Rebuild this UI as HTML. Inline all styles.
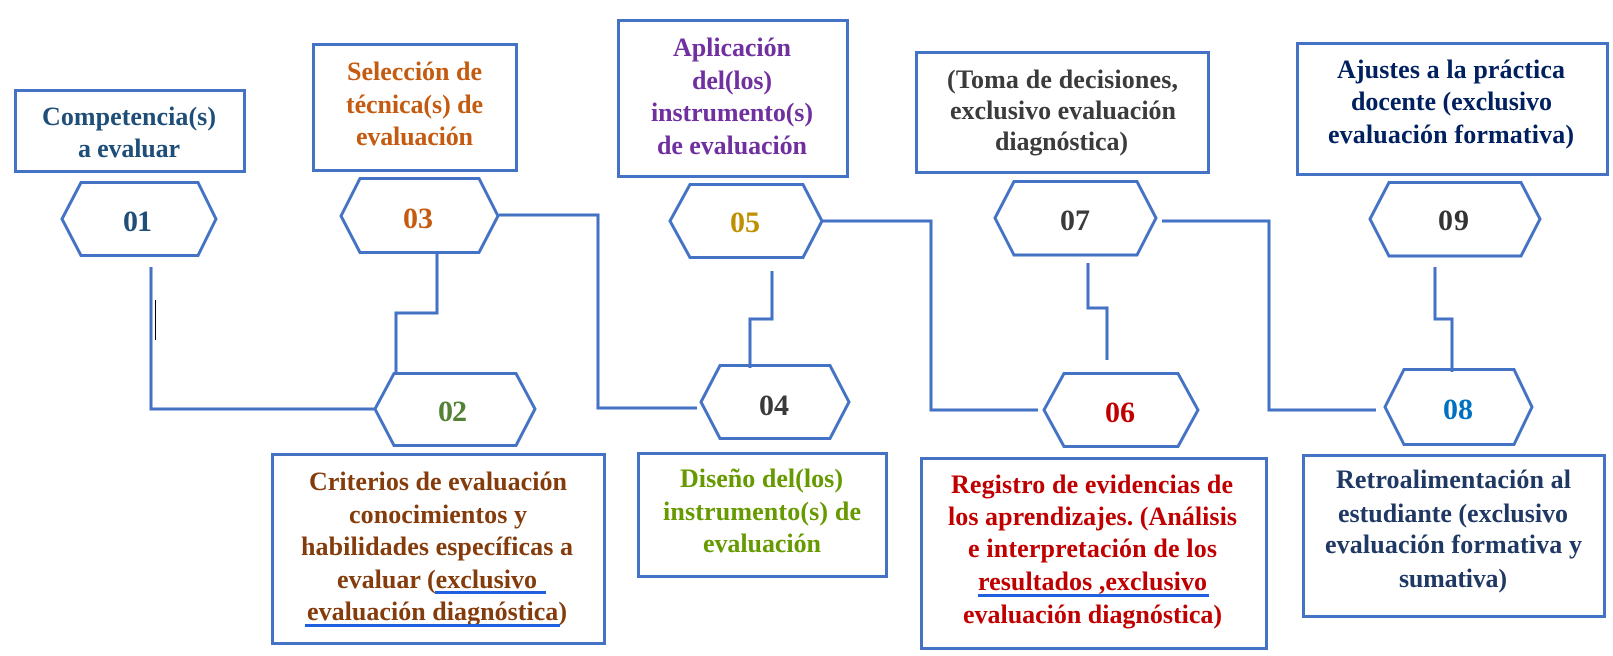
<!DOCTYPE html>
<html>
<head>
<meta charset="utf-8">
<style>
  html,body{margin:0;padding:0;background:#ffffff;}
  body{width:1613px;height:656px;overflow:hidden;}
  svg{display:block;}
  text{font-family:"Liberation Serif","Times New Roman",serif;font-weight:bold;}
  .t{font-size:26px;}
  .n{font-size:30px;}
</style>
</head>
<body>
<svg width="1613" height="656" viewBox="0 0 1613 656" xmlns="http://www.w3.org/2000/svg">
  <rect x="0" y="0" width="1613" height="656" fill="#ffffff"/>
  <g fill="none" stroke="#4472C4" stroke-width="3">
    <!-- boxes -->
    <rect x="15.5" y="90.5" width="229" height="81"/>
    <rect x="313.5" y="44.5" width="203" height="126"/>
    <rect x="618.5" y="20.5" width="229" height="156"/>
    <rect x="916.5" y="52.5" width="292" height="120"/>
    <rect x="1297.5" y="43.5" width="310" height="131"/>
    <rect x="272.5" y="454.5" width="332" height="189"/>
    <rect x="638.5" y="453.5" width="248" height="123"/>
    <rect x="921.5" y="458.5" width="345" height="190"/>
    <rect x="1303.5" y="455.5" width="301" height="161"/>

    <!-- hexagons top -->
    <polygon points="62,219 81,182.5 198,182.5 216,219 198,255.5 81,255.5"/>
    <polygon points="341,216 360,178.5 479,178.5 498,216 479,252.5 360,252.5"/>
    <polygon points="670,221 690,184.5 803,184.5 822,221 803,257.5 690,257.5"/>
    <polygon points="995,218 1014,181.5 1137,181.5 1156,218 1137,255 1014,255"/>
    <polygon points="1370,219 1389,182.5 1521,182.5 1540,219 1521,256 1389,256"/>
    <!-- hexagons bottom -->
    <polygon points="375,409 394,373.5 516,373.5 535,409 516,445.5 394,445.5"/>
    <polygon points="701,402 720,365.5 830,365.5 849,402 830,438.5 720,438.5"/>
    <polygon points="1044,410 1064,373.5 1178,373.5 1198,410 1178,446.5 1064,446.5"/>
    <polygon points="1385,407 1404,369.5 1514,369.5 1532,407 1514,444.5 1404,444.5"/>

    <!-- connectors -->
    <polyline points="151,267 151,409 374,409"/>
    <polyline points="437,254 437,313 396,313 396,372"/>
    <polyline points="499,215 598,215 598,408 697,408"/>
    <polyline points="772,271 772,319 750,319 750,368"/>
    <polyline points="823,221 931,221 931,410 1038,410"/>
    <polyline points="1088,263 1088,308 1107,308 1107,360"/>
    <polyline points="1162,221 1269,221 1269,410 1376,410"/>
    <polyline points="1435,267 1435,319 1452,319 1452,372"/>
  </g>

  <!-- cursor mark -->
  <line x1="155.5" y1="300" x2="155.5" y2="340" stroke="#000" stroke-width="1"/>

  <!-- numbers -->
  <g class="n">
    <text x="123" y="231" textLength="29" fill="#1F4E79">01</text>
    <text x="403" y="228" textLength="30" fill="#C55A11">03</text>
    <text x="730" y="232" textLength="30" fill="#BF9000">05</text>
    <text x="1060" y="230" textLength="30" fill="#3A3A3A">07</text>
    <text x="1438" y="230" textLength="31" fill="#333333">09</text>
    <text x="438" y="421" textLength="29" fill="#538135">02</text>
    <text x="759" y="415" textLength="30" fill="#3A3A3A">04</text>
    <text x="1105" y="422" textLength="30" fill="#C00000">06</text>
    <text x="1443" y="419" textLength="30" fill="#0070C0">08</text>
  </g>

  <!-- Box 01 -->
  <g class="t" fill="#1F4E79">
    <text x="42" y="125" textLength="174">Competencia(s)</text>
    <text x="78" y="157" textLength="102">a evaluar</text>
  </g>
  <!-- Box 03 -->
  <g class="t" fill="#C55A11">
    <text x="347" y="80" textLength="135">Selección de</text>
    <text x="346" y="113" textLength="137">técnica(s) de</text>
    <text x="356" y="145" textLength="117">evaluación</text>
  </g>
  <!-- Box 05 -->
  <g class="t" fill="#7030A0">
    <text x="673" y="56" textLength="118">Aplicación</text>
    <text x="692" y="89" textLength="80">del(los)</text>
    <text x="651" y="121" textLength="162">instrumento(s)</text>
    <text x="657" y="154" textLength="150">de evaluación</text>
  </g>
  <!-- Box 07 -->
  <g class="t" fill="#3B3B3B">
    <text x="947" y="88" textLength="231">(Toma de decisiones,</text>
    <text x="950" y="119" textLength="226">exclusivo evaluación</text>
    <text x="995" y="150" textLength="133">diagnóstica)</text>
  </g>
  <!-- Box 09 -->
  <g class="t" fill="#002060">
    <text x="1337" y="78" textLength="228">Ajustes a la práctica</text>
    <text x="1351" y="110" textLength="201">docente (exclusivo</text>
    <text x="1328" y="143" textLength="246">evaluación formativa)</text>
  </g>
  <!-- Box 02 -->
  <g class="t" fill="#843C0C">
    <text x="309" y="490" textLength="258">Criterios de evaluación</text>
    <text x="349" y="523" textLength="178">conocimientos y</text>
    <text x="301" y="555" textLength="272">habilidades específicas a</text>
    <text x="337" y="588" textLength="200">evaluar (exclusivo</text>
    <text x="307" y="620" textLength="260">evaluación diagnóstica)</text>
  </g>
  <rect x="435" y="591" width="111" height="3" fill="#1F5FE0"/>
  <rect x="305" y="624" width="255" height="3" fill="#1F5FE0"/>
  <!-- Box 04 -->
  <g class="t" fill="#669A00">
    <text x="680" y="487" textLength="163">Diseño del(los)</text>
    <text x="663" y="520" textLength="198">instrumento(s) de</text>
    <text x="703" y="552" textLength="118">evaluación</text>
  </g>
  <!-- Box 06 -->
  <g class="t" fill="#C00000">
    <text x="951" y="493" textLength="282">Registro de evidencias de</text>
    <text x="948" y="525" textLength="289">los aprendizajes. (Análisis</text>
    <text x="968" y="557" textLength="249">e interpretación de los</text>
    <text x="978" y="590" textLength="229">resultados ,exclusivo</text>
    <text x="963" y="623" textLength="259">evaluación diagnóstica)</text>
  </g>
  <rect x="978" y="594" width="231" height="3" fill="#1F5FE0"/>
  <!-- Box 08 -->
  <g class="t" fill="#1F3864">
    <text x="1336" y="488" textLength="235">Retroalimentación al</text>
    <text x="1338" y="522" textLength="230">estudiante (exclusivo</text>
    <text x="1325" y="553" textLength="257">evaluación formativa y</text>
    <text x="1399" y="587" textLength="108">sumativa)</text>
  </g>
</svg>
</body>
</html>
